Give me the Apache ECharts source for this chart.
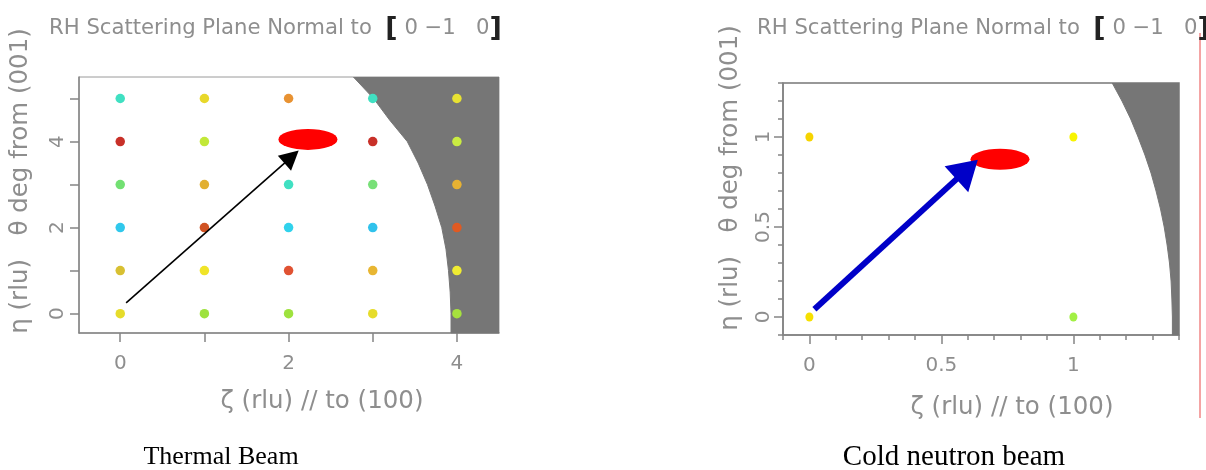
<!DOCTYPE html>
<html>
<head>
<meta charset="utf-8">
<script src="https://cdn.jsdelivr.net/npm/echarts@6/dist/echarts.min.js"></script>
<style>
html,body{margin:0;padding:0;background:#fff;}
#c{width:1206px;height:470px;}
</style>
</head>
<body>
<div id="c"></div>
<script>
// ---------- data ----------
const titleMain = 'RH Scattering Plane Normal to  ';
const titleVector = ['0', '\u22121', '0'];
const xName = '\u03b6 (rlu) // to (100)';
const yName = '\u03b7 (rlu)   \u03b8 deg from (001)';
const captions = ['Thermal Beam', 'Cold neutron beam'];

// thermal beam reciprocal lattice points
const thermalZeta = [0, 1, 2, 3, 4];
const thermalEta = [0, 1, 2, 3, 4, 5];
const thermalPeakColors = [
  ['#e6dc2a', '#9ee23e', '#9ee23e', '#e6dc2a', '#a6e23e'],
  ['#d8c032', '#f0e428', '#e05232', '#e8b632', '#f0ec32'],
  ['#30c8ec', '#d05222', '#30d2ec', '#30c2ec', '#e05a22'],
  ['#72e072', '#e2b032', '#40e0c2', '#78e078', '#e8b232'],
  ['#c83028', '#c2e838', '#40e0c2', '#c83028', '#caec42'],
  ['#40e0c2', '#e8d82a', '#e89232', '#40e0c2', '#e8e232']
];
const thermalLimitZeta = [2.77, 3.01, 3.20, 3.41, 3.54, 3.65, 3.74, 3.82, 3.87, 3.90, 3.92, 3.93, 3.93, 4.5];
const thermalLimitEta  = [5.5, 5.0, 4.5, 4.0, 3.5, 3.0, 2.5, 2.0, 1.5, 1.0, 0.5, 0, -0.45, -0.45];
const thermalSpot = [2.23, 4.05];
const thermalArrow = [0.07, 0.25, 2.12, 3.79];   // from zeta, from eta, to zeta, to eta
const thermalXTicks = [0, 1, 2, 3, 4];
const thermalXLabels = [0, 2, 4];
const thermalYTicks = [0, 1, 2, 3, 4, 5];
const thermalYLabels = [0, 2, 4];

// cold beam reciprocal lattice points
const coldZeta = [0, 0, 1, 1];
const coldEta = [0, 1, 0, 1];
const coldPeakColors = ['#f6e000', '#f6d400', '#a2f044', '#f8f400'];
const coldLimitZeta = [1.147, 1.184, 1.217, 1.245, 1.271, 1.294, 1.313, 1.330, 1.344, 1.355, 1.364, 1.370, 1.373, 1.375, 1.375, 1.4];
const coldLimitEta  = [1.3, 1.2, 1.1, 1.0, 0.9, 0.8, 0.7, 0.6, 0.5, 0.4, 0.3, 0.2, 0.1, 0, -0.1, -0.1];
const coldSpot = [0.722, 0.876];
const coldArrow = [0.019, 0.043, 0.638, 0.874];
const coldXMajor = [0, 0.5, 1];
const coldXMinor = [-0.1, 0, 0.1, 0.2, 0.3, 0.4, 0.5, 0.6, 0.7, 0.8, 0.9, 1.0, 1.1, 1.2, 1.3, 1.4];
const coldYMajor = [0, 0.5, 1];
const coldYMinor = [-0.1, 0, 0.1, 0.2, 0.3, 0.4, 0.5, 0.6, 0.7, 0.8, 0.9, 1.0, 1.1, 1.2, 1.3];

// ---------- styles ----------
const GREY = '#8e8e8e';
const FONT = 'DejaVu Sans';
const NAME_SIZE = 24.5;
const ellipsePath = 'path://M0,50 A50,50 0 1,1 100,50 A50,50 0 1,1 0,50 Z';

function zip(xs, ys) { return xs.map((x, i) => [x, ys[i]]); }

const thermalPeaks = [];
thermalEta.forEach((e, r) => thermalZeta.forEach((z, c) => {
  thermalPeaks.push({ value: [z, e], itemStyle: { color: thermalPeakColors[r][c] } });
}));
const coldPeaks = coldZeta.map((z, i) => ({ value: [z, coldEta[i]], itemStyle: { color: coldPeakColors[i] } }));

function mainX(grid, min, max, ticks, labels, nameGap, namePad) {
  return {
    type: 'value', gridIndex: grid, min: min, max: max, position: 'bottom',
    splitLine: { show: false },
    axisLine: { show: true, onZero: false, lineStyle: { color: '#858585', width: 1.5 } },
    axisTick: { show: true, customValues: ticks, length: 9, lineStyle: { color: '#858585', width: 1.5 } },
    axisLabel: { show: true, customValues: labels, margin: 21, color: GREY, fontFamily: FONT, fontSize: 20,
      formatter: v => String(v) },
    name: xName, nameLocation: 'middle', nameGap: nameGap,
    nameTextStyle: { color: GREY, fontFamily: FONT, fontSize: NAME_SIZE, padding: [0, 0, 0, namePad] }
  };
}
function minorX(grid, min, max, ticks) {
  return {
    type: 'value', gridIndex: grid, min: min, max: max, position: 'bottom',
    splitLine: { show: false }, axisLine: { show: false, onZero: false },
    axisTick: { show: true, customValues: ticks, length: 5, lineStyle: { color: '#858585', width: 1.5 } },
    axisLabel: { show: false }
  };
}
function mainY(grid, min, max, ticks, labels, nameGap, namePad, margin) {
  return {
    type: 'value', gridIndex: grid, min: min, max: max, position: 'left',
    splitLine: { show: false },
    axisLine: { show: true, onZero: false, lineStyle: { color: '#858585', width: 1.5 } },
    axisTick: { show: true, customValues: ticks, length: 9, lineStyle: { color: '#858585', width: 1.5 } },
    axisLabel: { show: true, customValues: labels, rotate: 90, margin: margin, color: GREY, fontFamily: FONT, fontSize: 20,
      formatter: v => String(v) },
    name: yName, nameLocation: 'middle', nameGap: nameGap,
    nameTextStyle: { color: GREY, fontFamily: FONT, fontSize: NAME_SIZE, padding: [0, 0, 0, namePad] }
  };
}
function minorY(grid, min, max, ticks) {
  return {
    type: 'value', gridIndex: grid, min: min, max: max, position: 'left',
    splitLine: { show: false }, axisLine: { show: false, onZero: false },
    axisTick: { show: true, customValues: ticks, length: 5, lineStyle: { color: '#858585', width: 1.5 } },
    axisLabel: { show: false }
  };
}

function titleText(left) {
  return {
    left: left, top: 10,
    text: '{g|' + titleMain + '}{b|[}{g| ' + titleVector[0] + ' ' + titleVector[1] + '   ' + titleVector[2] + '}{b|]}',
    textStyle: {
      fontWeight: 'normal',
      rich: {
        g: { color: GREY, fontFamily: FONT, fontSize: 21.2, fontWeight: 'normal' },
        b: { color: '#222', fontFamily: FONT, fontSize: 27, fontWeight: 'bold' }
      }
    }
  };
}

function arrowRenderer(headW, headH, lineW, color) {
  return function (params, api) {
    const p0 = api.coord([api.value(0), api.value(1)]);
    const p1 = api.coord([api.value(2), api.value(3)]);
    const dx = p1[0] - p0[0], dy = p1[1] - p0[1];
    const len = Math.sqrt(dx * dx + dy * dy);
    const ux = dx / len, uy = dy / len;
    const bx = p1[0] - ux * headH, by = p1[1] - uy * headH;
    const px = -uy * headW / 2, py = ux * headW / 2;
    return {
      type: 'group',
      children: [
        { type: 'line', shape: { x1: p0[0], y1: p0[1], x2: bx + ux * 2, y2: by + uy * 2 },
          style: { stroke: color, lineWidth: lineW } },
        { type: 'polygon', shape: { points: [[p1[0], p1[1]], [bx + px, by + py], [bx - px, by - py]] },
          style: { fill: color } }
      ]
    };
  };
}

const option = {
  animation: false,
  backgroundColor: '#fff',
  title: [titleText(44), titleText(752)],
  grid: [
    { left: 79, top: 77, width: 420, height: 256, show: true, borderColor: '#9a9a9a', borderWidth: 1 },
    { left: 783, top: 83, width: 396, height: 252, show: true, borderColor: '#777', borderWidth: 1.5 }
  ],
  xAxis: [
    mainX(0, -0.49, 4.5, thermalXTicks, thermalXLabels, 56, 66),
    mainX(1, -0.1, 1.4, coldXMajor, coldXMajor, 60, 62),
    minorX(1, -0.1, 1.4, coldXMinor)
  ],
  yAxis: [
    mainY(0, -0.45, 5.5, thermalYTicks, thermalYLabels, 46, 48, 11),
    mainY(1, -0.1, 1.3, coldYMajor, coldYMajor, 40, 62, 9),
    minorY(1, -0.1, 1.3, coldYMinor)
  ],
  series: [
    { type: 'line', xAxisIndex: 0, yAxisIndex: 0, data: zip(thermalLimitZeta, thermalLimitEta),
      symbol: 'none', silent: true, z: 1,
      lineStyle: { color: '#767676', width: 1 }, areaStyle: { color: '#767676', opacity: 1, origin: 'end' } },
    { type: 'line', xAxisIndex: 1, yAxisIndex: 1, data: zip(coldLimitZeta, coldLimitEta),
      symbol: 'none', silent: true, z: 1,
      lineStyle: { color: '#767676', width: 1 }, areaStyle: { color: '#767676', opacity: 1, origin: 'end' } },
    { type: 'scatter', xAxisIndex: 0, yAxisIndex: 0, data: thermalPeaks, symbolSize: 9.5, z: 3,
      itemStyle: { opacity: 1 } },
    { type: 'scatter', xAxisIndex: 1, yAxisIndex: 1, data: coldPeaks, symbolSize: [8, 9], z: 3,
      itemStyle: { opacity: 1 } },
    { type: 'scatter', xAxisIndex: 0, yAxisIndex: 0, data: [thermalSpot], symbol: ellipsePath,
      symbolKeepAspect: false, symbolSize: [59, 21], itemStyle: { color: '#ff0000', opacity: 1 }, z: 4 },
    { type: 'scatter', xAxisIndex: 1, yAxisIndex: 1, data: [coldSpot], symbol: ellipsePath,
      symbolKeepAspect: false, symbolSize: [59, 21], itemStyle: { color: '#ff0000', opacity: 1 }, z: 4 },
    { type: 'custom', coordinateSystem: 'cartesian2d', xAxisIndex: 0, yAxisIndex: 0, z: 5, silent: true,
      data: [thermalArrow], renderItem: arrowRenderer(20, 19, 1.6, '#000000') },
    { type: 'custom', coordinateSystem: 'cartesian2d', xAxisIndex: 1, yAxisIndex: 1, z: 5, silent: true,
      data: [coldArrow], renderItem: arrowRenderer(35, 29, 6, '#0000c8') }
  ],
  graphic: [
    { type: 'line', shape: { x1: 1200, y1: 33, x2: 1200, y2: 418 }, style: { stroke: '#f4a4a4', lineWidth: 2 }, silent: true },
    { type: 'text', x: 221, y: 457, style: { text: captions[0], fill: '#000', font: '26px "Liberation Serif", "Times New Roman", serif', textAlign: 'center', textVerticalAlign: 'middle' } },
    { type: 'text', x: 954, y: 457, style: { text: captions[1], fill: '#000', font: '29px "Liberation Serif", "Times New Roman", serif', textAlign: 'center', textVerticalAlign: 'middle' } }
  ]
};

const chart = echarts.init(document.getElementById('c'), null, { renderer: 'canvas' });
chart.setOption(option);
</script>
</body>
</html>
